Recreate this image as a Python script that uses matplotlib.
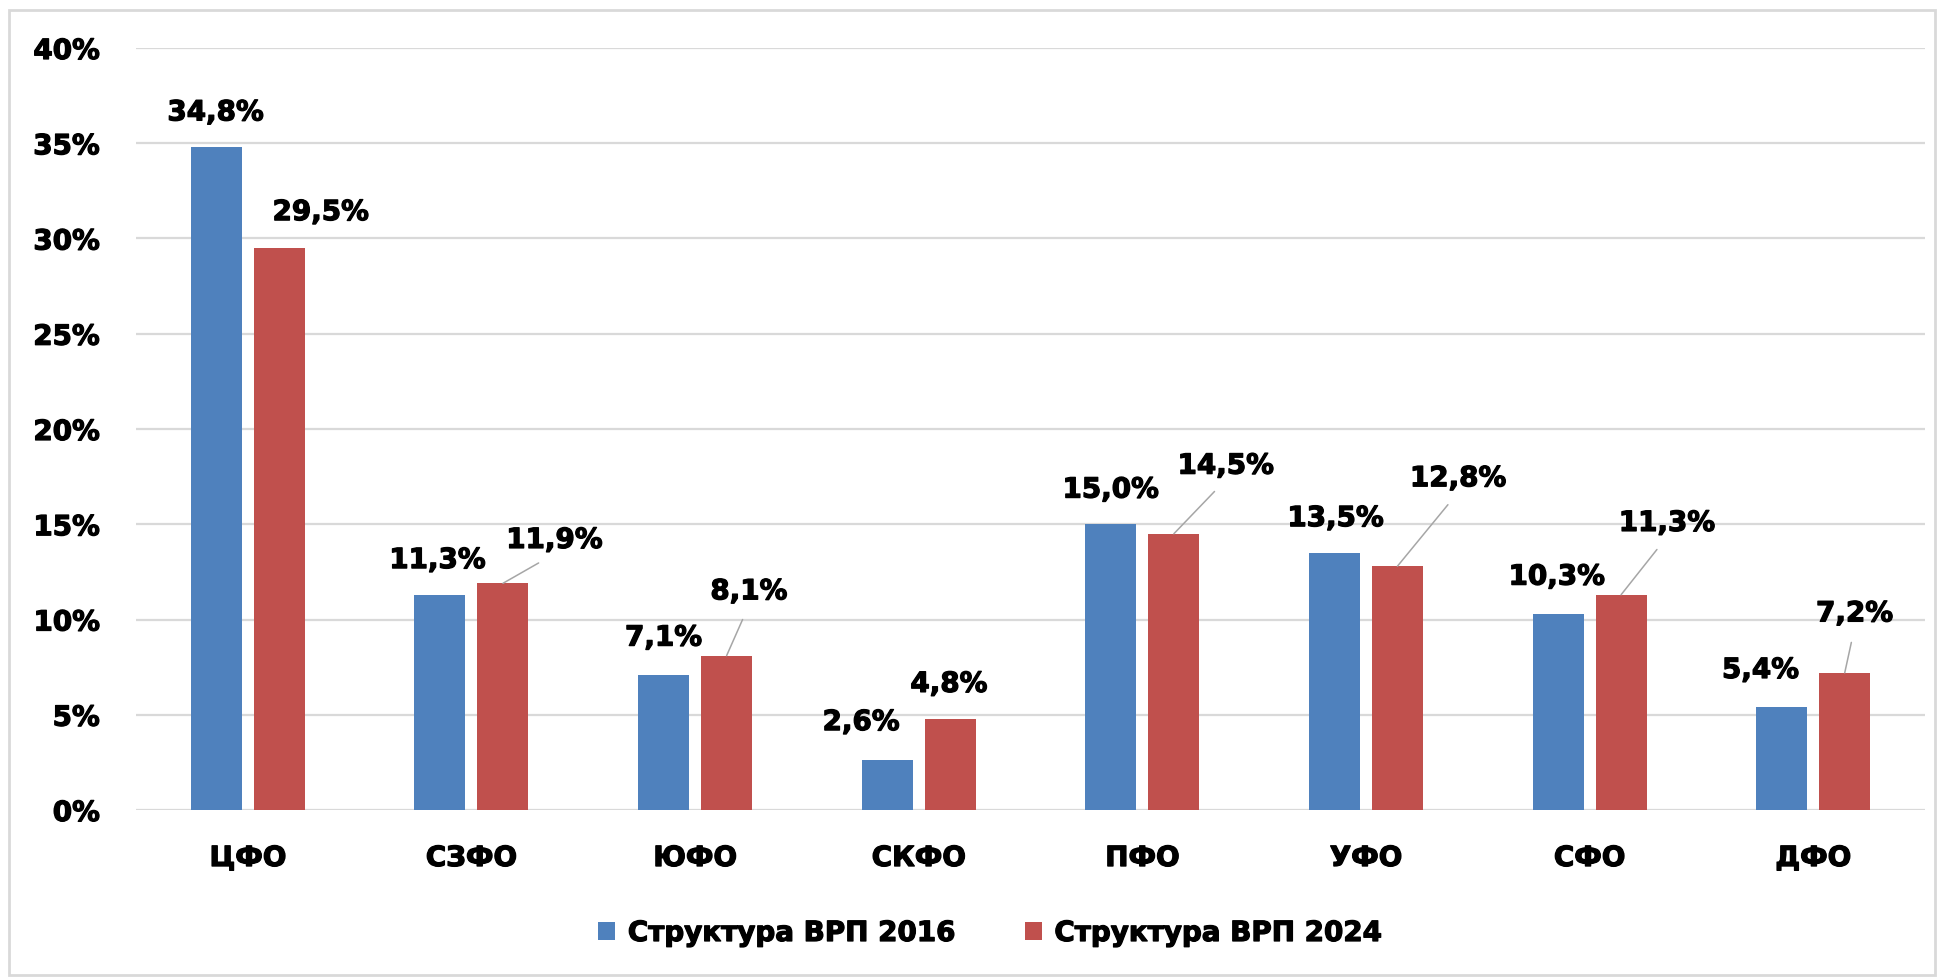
import matplotlib
matplotlib.use("Agg")
import matplotlib.pyplot as plt
import matplotlib.patheffects as pe
import numpy as np
from matplotlib.patches import Rectangle

categories = ["ЦФО", "СЗФО", "ЮФО", "СКФО", "ПФО", "УФО", "СФО", "ДФО"]
vals_2016 = [34.8, 11.3, 7.1, 2.6, 15.0, 13.5, 10.3, 5.4]
vals_2024 = [29.5, 11.9, 8.1, 4.8, 14.5, 12.8, 11.3, 7.2]
series_names = ["Структура ВРП 2016", "Структура ВРП 2024"]
yticks = [0, 5, 10, 15, 20, 25, 30, 35, 40]

# label layout (offsets in reference display px: dx, dy from bar top)
off_2016 = [(-0.5, 28), (-2, 28), (0, 30), (-21, 31), (0, 28), (1, 28), (-1, 30), (-17, 30)]
off_2024 = [(33.5, 29), (41.5, 35), (18, 52), (-1, 28), (42, 55), (49, 71), (37, 58), (8, 48)]
leader_2024 = [False, True, True, False, True, True, True, True]

BLUE = "#4F81BD"
RED = "#C0504D"
GRID = "#D9D9D9"
FS = 20
K = 1941 / 1568 * 0.72  # display px -> points
HEAVY = [pe.withStroke(linewidth=0.9, foreground="black")]

plt.rcParams["font.family"] = ["DejaVu Sans"]
fig = plt.figure(figsize=(19.41, 9.8), dpi=100)
ax = fig.add_axes([136 / 1941, 1 - 810 / 980, (1925 - 136) / 1941, (810 - 48) / 980])

x = np.arange(len(categories))
w = 0.228
d = 0.141
b1 = ax.bar(x - d, vals_2016, w, color=BLUE, zorder=3, label=series_names[0])
b2 = ax.bar(x + d, vals_2024, w, color=RED, zorder=3, label=series_names[1])

ax.set_xlim(-0.5, len(categories) - 0.5)
ax.set_ylim(0, 40)
ax.set_yticks(yticks)
ax.set_yticklabels([f"{t}%" for t in yticks], fontsize=FS, fontweight="bold")
ax.set_xticks(x)
ax.set_xticklabels(categories, fontsize=FS, fontweight="bold")
ax.tick_params(axis="y", length=0, pad=26)
ax.tick_params(axis="x", length=0, pad=24.5)
for t in ax.get_xticklabels() + ax.get_yticklabels():
    t.set_path_effects(HEAVY)
ax.grid(axis="y", color=GRID, lw=1.6, zorder=0)
for s in ax.spines.values():
    s.set_visible(False)


def fmt(v):
    return f"{v:.1f}%".replace(".", ",")


for i, v in enumerate(vals_2016):
    dx, dy = off_2016[i]
    ax.annotate(fmt(v), xy=(x[i] - d, v), xytext=(dx * K, dy * K),
                textcoords="offset points", ha="center", va="center",
                fontsize=FS, fontweight="bold", zorder=5, path_effects=HEAVY)

for i, v in enumerate(vals_2024):
    dx, dy = off_2024[i]
    ap = None
    if leader_2024[i]:
        ap = dict(arrowstyle="-", color="#A6A6A6", lw=1.1, relpos=(0.5, 0.0),
                  shrinkA=9, shrinkB=0)
    ax.annotate(fmt(v), xy=(x[i] + d, v), xytext=(dx * K, dy * K),
                textcoords="offset points", ha="center", va="center",
                fontsize=FS, fontweight="bold", arrowprops=ap, zorder=5,
                path_effects=HEAVY)

leg = fig.legend(handles=[b1, b2], loc="center", bbox_to_anchor=(990 / 1941, 1 - 933 / 980),
                 ncol=2, frameon=False, prop=dict(size=FS, weight="bold"),
                 handlelength=0.62, handleheight=0.62, handletextpad=0.45, columnspacing=2.5)
for t in leg.get_texts():
    t.set_path_effects(HEAVY)

fig.patches.append(Rectangle((9 / 1941, 5 / 980), 1 - 15 / 1941, 1 - 15 / 980,
                             transform=fig.transFigure, fill=False, edgecolor="#D9D9D9", lw=2))

fig.savefig("out.png", dpi=100)
